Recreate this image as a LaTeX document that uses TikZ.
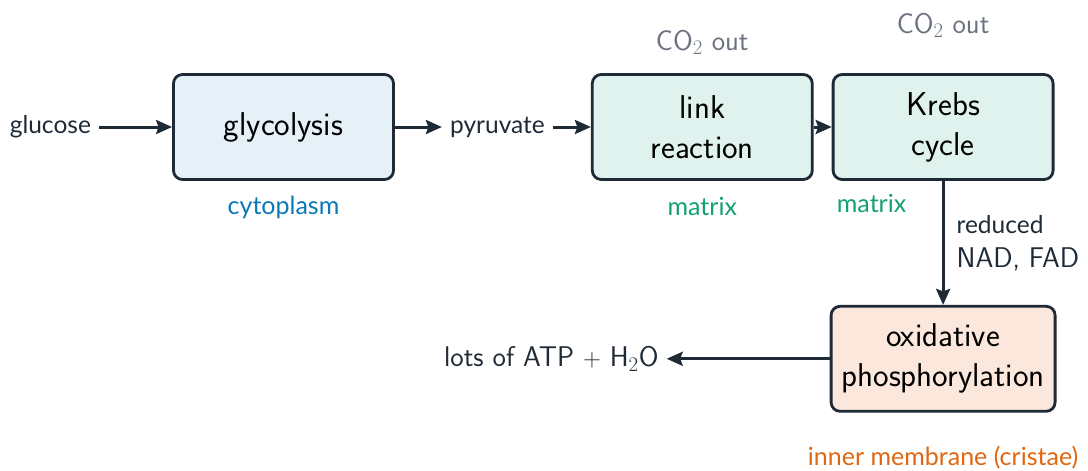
\documentclass[tikz,border=0pt]{standalone}
\usepackage{fontspec}
\newfontfamily\lblfont{Lato}
\usetikzlibrary{arrows.meta,positioning}
\definecolor{edgecol}{HTML}{1F2A37}
\definecolor{glycofill}{HTML}{E5F0F7}
\definecolor{matfill}{HTML}{E0F2EE}
\definecolor{oxfill}{HTML}{FBE7DB}
\definecolor{cytocol}{HTML}{0B78B8}
\definecolor{matcol}{HTML}{13A074}
\definecolor{memcol}{HTML}{E0670F}
\definecolor{gascol}{HTML}{6B7280}
\tikzset{
stage/.style = {draw=edgecol, line width=2.8pt, rounded corners=9pt, minimum width=220pt, minimum height=105pt, align=center, inner sep=0pt, text=black, font=\sffamily\fontsize{33}{40}\selectfont},
flowlbl/.style = {inner xsep=8pt, inner ysep=0pt, text=edgecol, font=\lblfont\fontsize{24.5}{30}\selectfont},
site/.style = {inner sep=0pt, font=\lblfont\fontsize{25}{30}\selectfont},
note/.style = {inner sep=0pt, text=edgecol, font=\sffamily\fontsize{28.5}{34}\selectfont},
gas/.style = {note, text=gascol},
flow/.style = {->, draw=edgecol, line width=3pt}
}

\begin{document}
\begin{tikzpicture}[x=1pt, y=1pt, node distance=18pt, >={Stealth[length=16pt,width=14pt,inset=2.5pt]}]
  \useasboundingbox (0,0) rectangle (1088,-471);
  % stages
  \node [stage, fill=glycofill] (glyco) at (283.5,-127) {glycolysis};
  \node [stage, fill=matfill, right=196pt of glyco] (link) {link\\reaction};
  \node [stage, fill=matfill, right=of link] (krebs) {Krebs\\cycle};
  \node [stage, fill=oxfill, minimum width=224pt, below=124pt of krebs] (oxid) {oxidative\\phosphorylation};

  % inputs and outputs
  \node [flowlbl, left=73pt of glyco]   (glucose)  {glucose};
  \node [flowlbl, right=47pt of glyco]  (pyruvate) {pyruvate};
  \node [note, inner xsep=8pt, left=163pt of oxid] (atp) {lots of ATP $+$ H$_2$O};
  \node [gas, above=18pt of link]       (co2a)     {CO$_2$ out};
  \node [gas, above=35pt of krebs]      (co2b)     {CO$_2$ out};

  % where it happens
  \node [site, text=cytocol, below=15pt of glyco] (cyto)  {cytoplasm};
  \node [site, text=matcol, below=16pt of link]   (mat1)  {matrix};
  \node [site, text=matcol, below right=13pt and 5pt of krebs.south west] (mat2) {matrix};
  \node [site, text=memcol, below=33pt of oxid]   (memb)  {inner membrane (cristae)};

  \draw [flow] (glucose) -- (glyco);
  \draw [flow] (glyco) -- (pyruvate);
  \draw [flow] (pyruvate) -- (link);
  \draw [flow] (link) -- (krebs);
  \draw [flow] (krebs) -- node [note, anchor=west, xshift=12pt, align=left] {{\lblfont\fontsize{24.5}{34}\selectfont reduced}\\NAD, FAD} (oxid);
  \draw [flow] (oxid) -- (atp);
\end{tikzpicture}
\end{document}
